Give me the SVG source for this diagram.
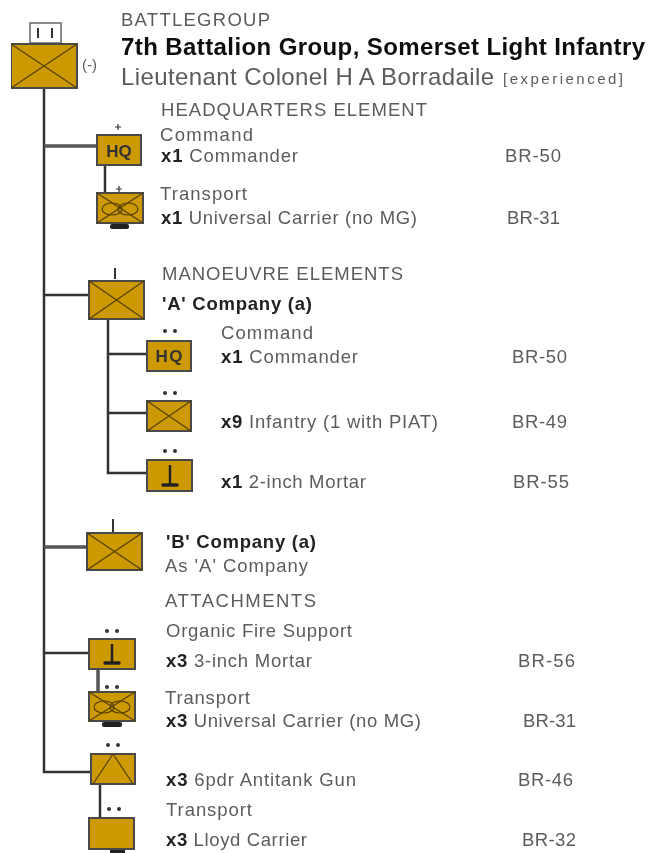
<svg xmlns="http://www.w3.org/2000/svg" width="648" height="853" viewBox="0 0 648 853">
<style>
text{font-family:"Liberation Sans",Arial,sans-serif;font-size:18.5px;fill:#5c5c5c}
.b{font-weight:bold;fill:#222}
.box{fill:#cc9900;stroke:#4a4a4a;stroke-width:2}
.sym{fill:none;stroke:#553f00;stroke-width:1.2}
.con{fill:none;stroke:#333;stroke-width:2.5}
.thick{fill:none;stroke:#555;stroke-width:3.5}
.hq{font-weight:bold;font-size:17px;fill:#333;text-anchor:middle}
.dot{fill:#333}
</style>
<defs><filter id="soft" x="0" y="0" width="1" height="1"><feGaussianBlur stdDeviation="0.7"/></filter></defs>
<rect width="648" height="853" fill="#fff"/>
<g filter="url(#soft)">
<g id="connectors">
<path class="con" d="M44 88V772H91M44 295H89M44 653H89"/>
<path class="thick" d="M44 146H97M44 547H87M98 669V692"/>
<path class="con" d="M105 165V193M108 319V473H147M108 354H147M108 413H147M100 784V818"/>
</g>
<g id="bg"><rect x="30" y="23" width="31" height="20" fill="#fff" stroke="#666" stroke-width="1.5"/><path d="M38 28V38M52 28V38" stroke="#333" stroke-width="2"/><rect class="box" x="11" y="44" width="66" height="44"/><path class="sym" d="M11 44L77 88M77 44L11 88"/></g>
<g id="hq1"><rect class="box" x="97" y="135" width="44" height="30"/><text class="hq" x="119" y="157">HQ</text><path d="M118 124V130M115 127H121" stroke="#333" stroke-width="1.2"/></g>
<g id="carrier1"><rect class="box" x="97" y="193" width="46" height="30"/><path class="sym" d="M97 193L143 223M143 193L97 223"/><ellipse class="sym" cx="112" cy="209" rx="10" ry="6"/><ellipse class="sym" cx="128" cy="209" rx="10" ry="6"/><rect x="110" y="224" width="19" height="5" rx="2" fill="#222"/><path d="M119 186V192M116 189H122" stroke="#333" stroke-width="1.2"/></g>
<g id="coyA"><rect class="box" x="89" y="281" width="55" height="38"/><path class="sym" d="M89 281L144 319M144 281L89 319"/><path d="M115 268V279" stroke="#333" stroke-width="2"/></g>
<g id="hq2"><rect class="box" x="147" y="341" width="44" height="30"/><text class="hq" x="169" y="362" textLength="27">HQ</text><circle class="dot" cx="165" cy="331" r="2"/><circle class="dot" cx="175" cy="331" r="2"/></g>
<g id="inf"><rect class="box" x="147" y="401" width="44" height="30"/><path class="sym" d="M147 401L191 431M191 401L147 431"/><circle class="dot" cx="165" cy="393" r="2"/><circle class="dot" cx="175" cy="393" r="2"/></g>
<g id="mortar1"><rect class="box" x="147" y="460" width="45" height="31"/><path d="M170 465V484" stroke="#222" stroke-width="2.5"/><path d="M163 485H177" stroke="#222" stroke-width="3.5" stroke-linecap="round"/><circle class="dot" cx="165" cy="451" r="2"/><circle class="dot" cx="175" cy="451" r="2"/></g>
<g id="coyB"><rect class="box" x="87" y="533" width="55" height="37"/><path class="sym" d="M87 533L142 570M142 533L87 570"/><path d="M113 519V532" stroke="#333" stroke-width="2"/></g>
<g id="mortar2"><rect class="box" x="89" y="639" width="46" height="30"/><path d="M112 644V662" stroke="#222" stroke-width="2.5"/><path d="M105 663H119" stroke="#222" stroke-width="3.5" stroke-linecap="round"/><circle class="dot" cx="107" cy="631" r="2"/><circle class="dot" cx="117" cy="631" r="2"/></g>
<g id="carrier2"><rect class="box" x="89" y="692" width="46" height="29"/><path class="sym" d="M89 692L135 721M135 692L89 721"/><ellipse class="sym" cx="104" cy="707" rx="10" ry="6"/><ellipse class="sym" cx="120" cy="707" rx="10" ry="6"/><rect x="102" y="722" width="20" height="5" rx="2" fill="#222"/><circle class="dot" cx="107" cy="687" r="2"/><circle class="dot" cx="117" cy="687" r="2"/></g>
<g id="at"><rect class="box" x="91" y="754" width="44" height="30"/><path class="sym" d="M113 754L93 784M113 754L133 784"/><circle class="dot" cx="108" cy="745" r="2"/><circle class="dot" cx="118" cy="745" r="2"/></g>
<g id="lloyd"><rect class="box" x="89" y="818" width="45" height="31"/><rect x="110" y="850" width="15" height="3" fill="#222"/><circle class="dot" cx="109" cy="809" r="2"/><circle class="dot" cx="119" cy="809" r="2"/></g>
<g id="labels">
<text x="121" y="26" textLength="149">BATTLEGROUP</text>
<text x="121" y="55" class="b" style="font-size:24px;fill:#111" textLength="524">7th Battalion Group, Somerset Light Infantry</text>
<text x="121" y="85" style="font-size:24px" textLength="373">Lieutenant Colonel H A Borradaile</text>
<text x="503" y="84" style="font-size:15px" textLength="120">[experienced]</text>
<text x="82" y="70" style="font-size:15px">(-)</text>
<text x="161" y="116" textLength="266">HEADQUARTERS ELEMENT</text>
<text x="160" y="141" textLength="93">Command</text>
<text x="161" y="162" textLength="137"><tspan class="b">x1</tspan> Commander</text>
<text x="505" y="162" textLength="56">BR-50</text>
<text x="160" y="200" textLength="87">Transport</text>
<text x="161" y="224" textLength="256"><tspan class="b">x1</tspan> Universal Carrier (no MG)</text>
<text x="507" y="224" textLength="53">BR-31</text>
<text x="162" y="280" textLength="241">MANOEUVRE ELEMENTS</text>
<text x="162" y="310" class="b" textLength="150">'A' Company (a)</text>
<text x="221" y="339" textLength="92">Command</text>
<text x="221" y="363" textLength="137"><tspan class="b">x1</tspan> Commander</text>
<text x="512" y="363" textLength="55">BR-50</text>
<text x="221" y="428" textLength="217"><tspan class="b">x9</tspan> Infantry (1 with PIAT)</text>
<text x="512" y="428" textLength="55">BR-49</text>
<text x="221" y="488" textLength="145"><tspan class="b">x1</tspan> 2-inch Mortar</text>
<text x="513" y="488" textLength="56">BR-55</text>
<text x="166" y="548" class="b" textLength="150">'B' Company (a)</text>
<text x="165" y="572" textLength="143">As 'A' Company</text>
<text x="165" y="607" textLength="151">ATTACHMENTS</text>
<text x="166" y="637" textLength="186">Organic Fire Support</text>
<text x="166" y="667" textLength="146"><tspan class="b">x3</tspan> 3-inch Mortar</text>
<text x="518" y="667" textLength="57">BR-56</text>
<text x="165" y="704" textLength="85">Transport</text>
<text x="166" y="727" textLength="255"><tspan class="b">x3</tspan> Universal Carrier (no MG)</text>
<text x="523" y="727" textLength="53">BR-31</text>
<text x="166" y="786" textLength="190"><tspan class="b">x3</tspan> 6pdr Antitank Gun</text>
<text x="518" y="786" textLength="55">BR-46</text>
<text x="166" y="816" textLength="86">Transport</text>
<text x="166" y="846" textLength="141"><tspan class="b">x3</tspan> Lloyd Carrier</text>
<text x="522" y="846" textLength="54">BR-32</text>
</g>
</g>
</svg>
